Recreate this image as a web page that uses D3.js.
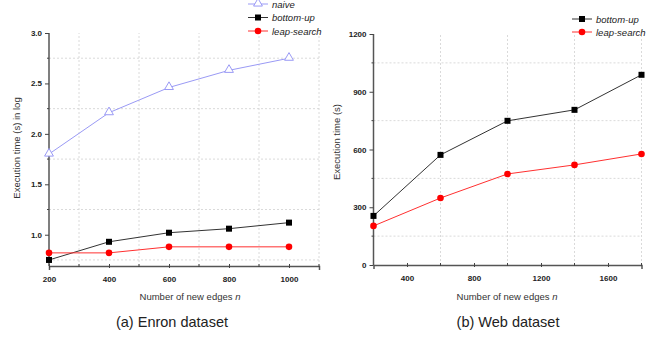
<!DOCTYPE html>
<html>
<head>
<meta charset="utf-8">
<script src="https://cdn.jsdelivr.net/npm/d3@7"></script>
<style>
  body { margin: 0; background: #fff; }
  svg { display: block; font-family: Arial, "Liberation Sans", sans-serif; }
</style>
</head>
<body>
<svg id="chart" width="656" height="338"></svg>
<script>
// (a) Enron dataset
const enronEdges = [200, 400, 600, 800, 1000];
const enronNaive = [1.80, 2.21, 2.46, 2.63, 2.75];
const enronBottomUp = [0.75, 0.93, 1.02, 1.06, 1.12];
const enronLeap = [0.82, 0.82, 0.88, 0.88, 0.88];
const enronXTicks = [200, 400, 600, 800, 1000];
const enronYTicks = [1.0, 1.5, 2.0, 2.5, 3.0];

// (b) Web dataset
const webEdges = [200, 600, 1000, 1400, 1800];
const webBottomUp = [255, 572, 749, 806, 988];
const webLeap = [203, 348, 473, 520, 577];
const webXTicks = [400, 800, 1200, 1600];
const webYTicks = [0, 300, 600, 900, 1200];

const svg = d3.select('#chart');

function drawPanel(cfg) {
  const x = d3.scaleLinear().domain(cfg.xDomain).range(cfg.xRange);
  const y = d3.scaleLinear().domain(cfg.yDomain).range(cfg.yRange);
  const g = svg.append('g');

  // dotted grid at minor positions
  g.append('g')
    .selectAll('line.vg')
    .data(cfg.xGrid)
    .enter().append('line')
    .attr('x1', d => x(d)).attr('x2', d => x(d))
    .attr('y1', cfg.yRange[0]).attr('y2', cfg.yRange[1])
    .attr('stroke', '#d0d0d0').attr('stroke-width', 0.8)
    .attr('stroke-dasharray', '2,2');
  g.append('g')
    .selectAll('line.hg')
    .data(cfg.yGrid)
    .enter().append('line')
    .attr('x1', cfg.xRange[0]).attr('x2', cfg.xRange[1])
    .attr('y1', d => y(d)).attr('y2', d => y(d))
    .attr('stroke', '#d0d0d0').attr('stroke-width', 0.8)
    .attr('stroke-dasharray', '2,2');

  // axes
  const xAxis = g.append('g')
    .attr('transform', 'translate(0,' + cfg.yRange[0] + ')')
    .call(d3.axisBottom(x).tickValues(cfg.xTicks).tickSize(4).tickPadding(6)
      .tickFormat(d3.format('d')));
  xAxis.selectAll('.tick line').attr('transform', 'translate(0,-2)');
  xAxis.append('g').selectAll('line')
    .data(cfg.xGrid)
    .enter().append('line')
    .attr('x1', d => x(d)).attr('x2', d => x(d))
    .attr('y1', -2).attr('y2', 1)
    .attr('stroke', '#444');

  const yAxis = g.append('g')
    .attr('transform', 'translate(' + cfg.xRange[0] + ',0)')
    .call(d3.axisLeft(y).tickValues(cfg.yTicks).tickSize(4).tickPadding(3)
      .tickFormat(cfg.yFormat));
  yAxis.append('g').selectAll('line')
    .data(cfg.yGrid)
    .enter().append('line')
    .attr('x1', -2).attr('x2', 0)
    .attr('y1', d => y(d)).attr('y2', d => y(d))
    .attr('stroke', '#444');

  [xAxis, yAxis].forEach(a => {
    a.select('.domain').attr('stroke', '#555').attr('stroke-width', 1.5);
    a.selectAll('.tick line').attr('stroke', '#444');
    a.selectAll('.tick text').attr('font-size', '8px').attr('fill', '#222')
      .attr('font-weight', 'bold').style('font-family', 'Arial, "Liberation Sans", sans-serif');
  });
  yAxis.select('.domain').attr('d', 'M0,' + cfg.yRange[0] + 'V' + cfg.yRange[1]);

  // series
  const line = d3.line().x(d => x(d[0])).y(d => y(d[1]));
  cfg.series.forEach(s => {
    const pts = cfg.xs.map((v, i) => [v, s.values[i]]);
    g.append('path').datum(pts)
      .attr('d', line).attr('fill', 'none')
      .attr('stroke', s.line).attr('stroke-width', 1);
    drawMarkers(g, pts.map(p => [x(p[0]), y(p[1])]), s);
  });

  // legend
  cfg.series.forEach((s, i) => {
    const ly = cfg.legendY + i * cfg.legendStep;
    const lg = svg.append('g');
    lg.append('line')
      .attr('x1', cfg.legendX).attr('x2', cfg.legendX + 20)
      .attr('y1', ly).attr('y2', ly)
      .attr('stroke', s.line).attr('stroke-width', 1);
    drawMarkers(lg, [[cfg.legendX + 10, ly]], s);
    lg.append('text')
      .attr('x', cfg.legendX + 24).attr('y', ly + 3.5)
      .attr('font-size', '9.5px').attr('font-style', 'italic')
      .attr('fill', '#222')
      .text(s.name);
  });

  // labels
  svg.append('text')
    .attr('transform', 'translate(' + cfg.yLabelX + ',' + cfg.yLabelY + ') rotate(-90)')
    .attr('text-anchor', 'middle').attr('font-size', '9.5px').attr('fill', '#333')
    .text(cfg.yLabel);
  const xl = svg.append('text')
    .attr('x', cfg.xLabelX).attr('y', 300)
    .attr('text-anchor', 'middle').attr('font-size', '9.5px').attr('fill', '#333');
  xl.append('tspan').text('Number of new edges ');
  xl.append('tspan').attr('font-style', 'italic').text('n');
  svg.append('text')
    .attr('x', cfg.captionX).attr('y', 327)
    .attr('text-anchor', 'middle').attr('font-size', '14.5px').attr('fill', '#222')
    .text(cfg.caption);
}

function drawMarkers(g, pts, s) {
  pts.forEach(p => {
    if (s.marker === 'triangle') {
      g.append('path')
        .attr('d', d3.symbol().type(d3.symbolTriangle).size(34)())
        .attr('transform', 'translate(' + p[0] + ',' + (p[1] - 0.5) + ')')
        .attr('fill', '#fff').attr('stroke', s.line).attr('stroke-width', 1);
    } else if (s.marker === 'square') {
      g.append('rect')
        .attr('x', p[0] - 3).attr('y', p[1] - 3)
        .attr('width', 6).attr('height', 6)
        .attr('fill', s.fill);
    } else {
      g.append('circle')
        .attr('cx', p[0]).attr('cy', p[1]).attr('r', 3.3)
        .attr('fill', s.fill);
    }
  });
}

drawPanel({
  xDomain: [200, 1100], xRange: [49, 319],
  yDomain: [0.69, 3.0], yRange: [266, 33],
  xTicks: enronXTicks, yTicks: enronYTicks,
  xGrid: [300, 500, 700, 900, 1100], yGrid: [0.75, 1.25, 1.75, 2.25, 2.75],
  yFormat: d3.format('.1f'),
  xs: enronEdges,
  series: [
    { name: 'naive', values: enronNaive, line: '#9a9af5', marker: 'triangle' },
    { name: 'bottom-up', values: enronBottomUp, line: '#333', fill: '#000', marker: 'square' },
    { name: 'leap-search', values: enronLeap, line: '#ff3030', fill: '#ff0000', marker: 'circle' }
  ],
  legendX: 248, legendY: 4, legendStep: 13.5,
  yLabel: 'Execution time (s) in log', yLabelX: 20, yLabelY: 148,
  xLabelX: 190, caption: '(a) Enron dataset', captionX: 172
});

drawPanel({
  xDomain: [200, 1800], xRange: [373.5, 641.5],
  yDomain: [0, 1200], yRange: [265, 34],
  xTicks: webXTicks, yTicks: webYTicks,
  xGrid: [600, 1000, 1400, 1800], yGrid: [150, 450, 750, 1050],
  yFormat: d3.format('d'),
  xs: webEdges,
  series: [
    { name: 'bottom-up', values: webBottomUp, line: '#333', fill: '#000', marker: 'square' },
    { name: 'leap-search', values: webLeap, line: '#ff3030', fill: '#ff0000', marker: 'circle' }
  ],
  legendX: 572, legendY: 19, legendStep: 13,
  yLabel: 'Execution time (s)', yLabelX: 340, yLabelY: 142,
  xLabelX: 507, caption: '(b) Web dataset', captionX: 508
});
</script>
</body>
</html>
